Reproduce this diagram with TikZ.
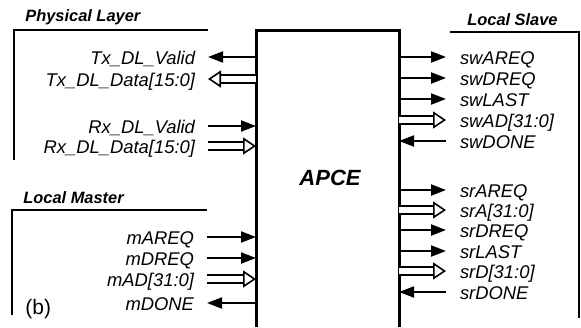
\documentclass[tikz,border=0pt]{standalone}
\usepackage{fontspec}
\setmainfont{Liberation Sans}
\usepackage{tikz}
\usetikzlibrary{arrows.meta, positioning, calc}

\begin{document}
\begin{tikzpicture}[
    x=0.5pt, y=-0.5pt,
    font=\fontsize{9.2}{11}\selectfont\itshape,
    siglbl/.style={inner xsep=0pt, inner ysep=0pt, text height=0.72em, text depth=0pt, outer xsep=#1},
    sigleft/.style={siglbl=6.5pt, anchor=east},
    sigright/.style={siglbl=7pt, anchor=west},
    grouplbl/.style={font=\fontsize{8.2}{10}\selectfont\bfseries\itshape, inner sep=0pt},
    frame/.style={line width=1pt},
    boxline/.style={line width=1.5pt},
    wire/.style={line width=1pt, -{Triangle[length=7.5pt, width=5.5pt]}},
    bus/.style={line width=0.8pt, double, double distance=3pt, -{Triangle[open, length=6.5pt, width=8.5pt, line width=0.8pt]}},
]
    \useasboundingbox (0,0) rectangle (581,327);

    % APCE block, open at the bottom
    \draw[boxline] (256,327) |- (399,30) -- (399,327);
    \coordinate (apceW) at (256,0);
    \coordinate (apceE) at (399,0);
    \node[font=\fontsize{11}{13}\selectfont\bfseries\itshape, inner sep=0pt] (apce) at (330,178) {APCE};

    % Physical Layer
    \node[grouplbl, anchor=west] (phy) at (25,17) {Physical Layer};
    \draw[frame] (14,160) |- (208,30);
    \node[sigleft] (txv) at (208,57) {Tx\_DL\_Valid};
    \node[sigleft] (txd) at (208,79) {Tx\_DL\_Data[15:0]};
    \node[sigleft] (rxv) at (208,126) {Rx\_DL\_Valid};
    \node[sigleft] (rxd) at (208,146) {Rx\_DL\_Data[15:0]};
    \draw[wire] (txv.east -| apceW) -- (txv.east);
    \draw[bus] (txd.east -| apceW) -- (txd.east);
    \draw[wire] (rxv.east) -- (rxv.east -| apceW);
    \draw[bus] (rxd.east) -- (rxd.east -| apceW);

    % Local Master
    \node[grouplbl, anchor=west] (mst) at (23,198) {Local Master};
    \draw[frame] (12,315) |- (207,210);
    \node[sigleft] (mareq) at (207,237) {mAREQ};
    \node[sigleft] (mdreq) at (207,258) {mDREQ};
    \node[sigleft] (mad) at (207,279) {mAD[31:0]};
    \node[sigleft] (mdone) at (207,303) {mDONE};
    \draw[wire] (mareq.east) -- (mareq.east -| apceW);
    \draw[wire] (mdreq.east) -- (mdreq.east -| apceW);
    \draw[bus] (mad.east) -- (mad.east -| apceW);
    \draw[wire] (mdone.east -| apceW) -- (mdone.east);
    \node[font=\fontsize{10.5}{12}\selectfont, inner sep=0pt, anchor=west] (tag) at (25,309) {(b)};

    % Local Slave
    \node[grouplbl, anchor=east] (slv) at (558,20) {Local Slave};
    \draw[frame] (450,32) -| (579,318);
    \node[sigright] (swareq) at (446,57) {swAREQ};
    \node[sigright] (swdreq) at (446,78) {swDREQ};
    \node[sigright] (swlast) at (446,99) {swLAST};
    \node[sigright] (swad) at (446,120) {swAD[31:0]};
    \node[sigright] (swdone) at (446,141) {swDONE};
    \node[sigright] (srareq) at (446,190) {srAREQ};
    \node[sigright] (sra) at (446,210) {srA[31:0]};
    \node[sigright] (srdreq) at (446,230) {srDREQ};
    \node[sigright] (srlast) at (446,251) {srLAST};
    \node[sigright] (srd) at (446,271) {srD[31:0]};
    \node[sigright] (srdone) at (446,292) {srDONE};
    \draw[wire] (swareq.west -| apceE) -- (swareq.west);
    \draw[wire] (swdreq.west -| apceE) -- (swdreq.west);
    \draw[wire] (swlast.west -| apceE) -- (swlast.west);
    \draw[bus] (swad.west -| apceE) -- (swad.west);
    \draw[wire] (swdone.west) -- (swdone.west -| apceE);
    \draw[wire] (srareq.west -| apceE) -- (srareq.west);
    \draw[bus] (sra.west -| apceE) -- (sra.west);
    \draw[wire] (srdreq.west -| apceE) -- (srdreq.west);
    \draw[wire] (srlast.west -| apceE) -- (srlast.west);
    \draw[bus] (srd.west -| apceE) -- (srd.west);
    \draw[wire] (srdone.west) -- (srdone.west -| apceE);
\end{tikzpicture}
\end{document}
